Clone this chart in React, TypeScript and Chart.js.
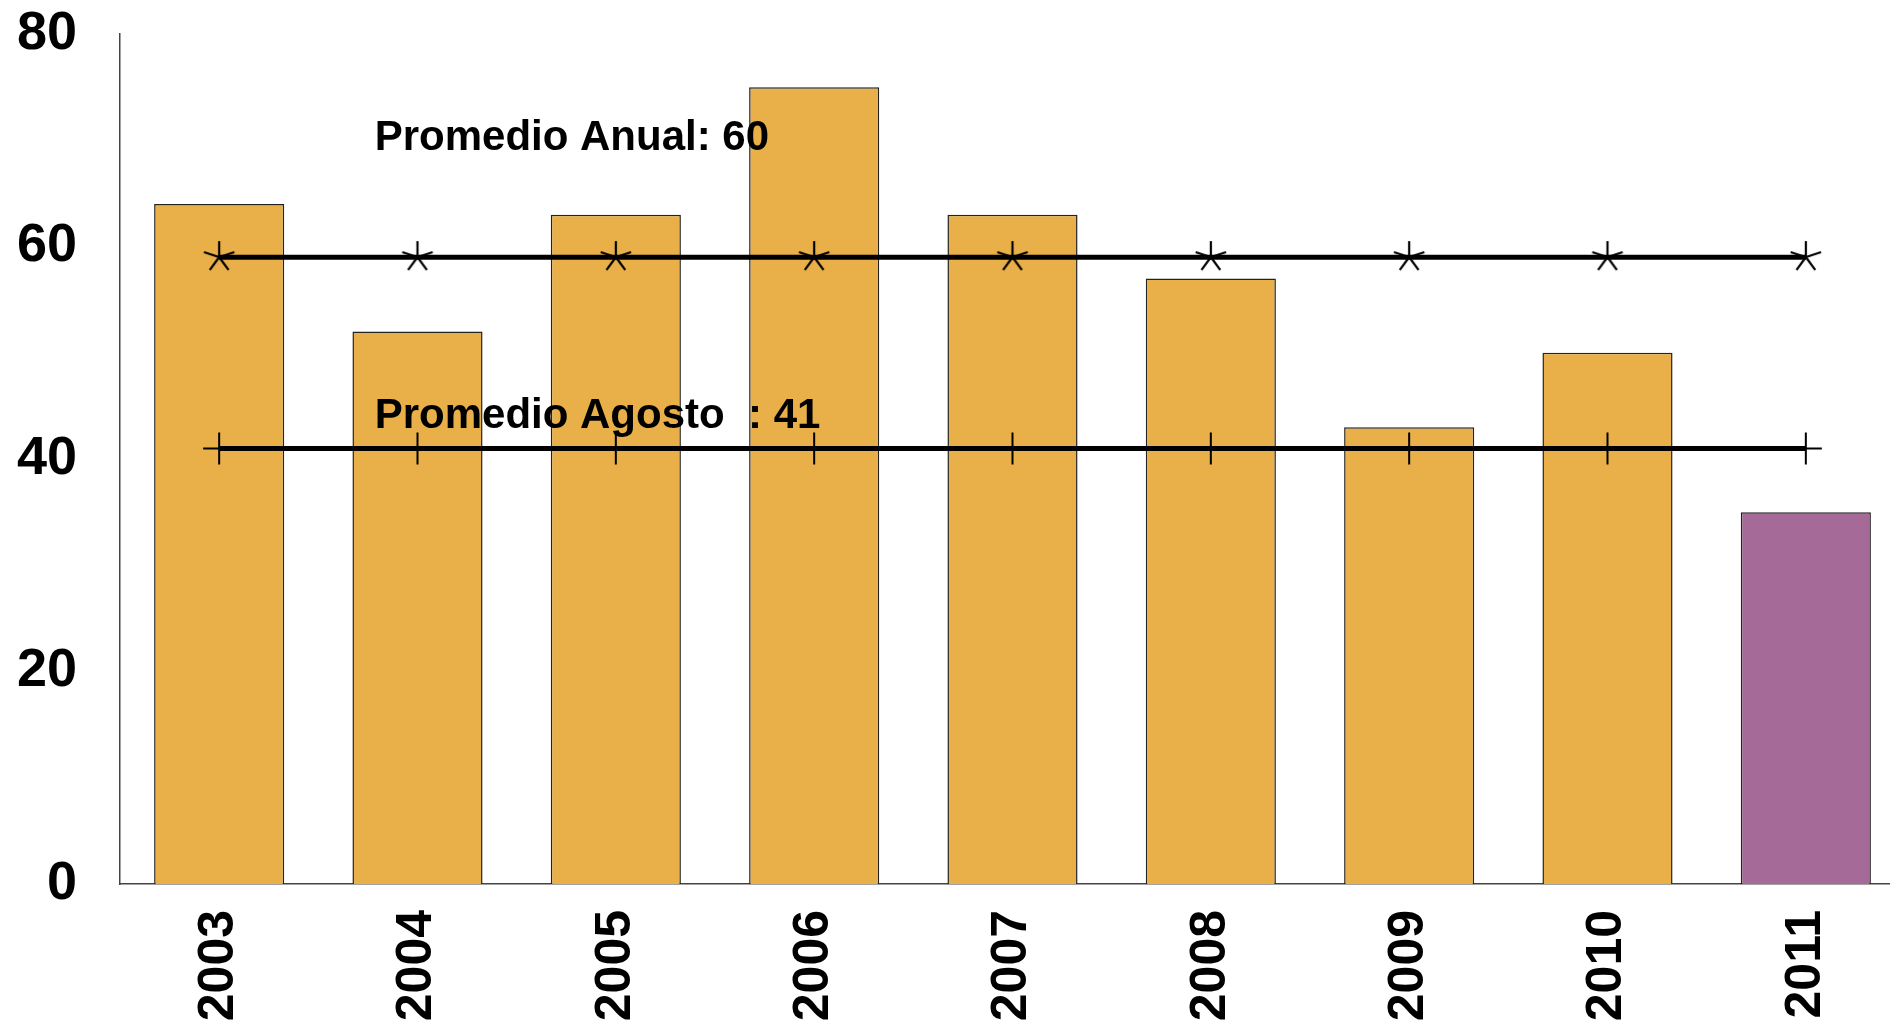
import React, { useEffect, useRef } from 'react';
import { Chart, registerables } from 'chart.js';

Chart.register(...registerables);

const years = ['2003', '2004', '2005', '2006', '2007', '2008', '2009', '2010', '2011'];
const rainValues = [64, 52, 63, 75, 63, 57, 43, 50, 35];
const barColors = ['#E9B04A', '#E9B04A', '#E9B04A', '#E9B04A', '#E9B04A', '#E9B04A', '#E9B04A', '#E9B04A', '#A56A98'];
const annualAvg = [59, 59, 59, 59, 59, 59, 59, 59, 59];
const augustAvg = [41, 41, 41, 41, 41, 41, 41, 41, 41];
const yTicks = [0, 20, 40, 60, 80];
const annotationTexts = ['Promedio Anual: 60', 'Promedio Agosto  : 41'];
const annotationX = [0.784, 0.784];
const annotationY = [70.2, 44];

const FONT = '"Liberation Sans", Arial, Helvetica, sans-serif';
const CANVAS_W = 1926;

function makeAsterisk(): HTMLCanvasElement {
  const c = document.createElement('canvas');
  c.width = 36;
  c.height = 36;
  const ctx = c.getContext('2d')!;
  ctx.strokeStyle = '#000';
  ctx.lineWidth = 2.2;
  const cx = 18, cy = 18, r = 16;
  const angles = [90, 18, 162, -54, -126];
  ctx.beginPath();
  for (const a of angles) {
    const rad = (a * Math.PI) / 180;
    ctx.moveTo(cx, cy);
    ctx.lineTo(cx + r * Math.cos(rad), cy - r * Math.sin(rad));
  }
  ctx.stroke();
  return c;
}

const annotationPlugin = {
  id: 'textAnnotations',
  afterDatasetsDraw(chart: any) {
    const { ctx, scales } = chart;
    ctx.save();
    ctx.font = `bold 42px ${FONT}`;
    ctx.fillStyle = '#000';
    ctx.textAlign = 'left';
    ctx.textBaseline = 'middle';
    annotationTexts.forEach((t, i) => {
      const x = scales.x.getPixelForValue(annotationX[i]);
      const y = scales.y.getPixelForValue(annotationY[i]);
      ctx.fillText(t, x, y);
    });
    ctx.restore();
  },
};

export default function App() {
  const ref = useRef<HTMLCanvasElement | null>(null);

  useEffect(() => {
    if (!ref.current) return;
    const star = makeAsterisk();
    const chart = new Chart(ref.current, {
      type: 'bar',
      data: {
        labels: years,
        datasets: [
          {
            type: 'line',
            data: annualAvg,
            borderColor: '#000',
            borderWidth: 5,
            pointStyle: star as any,
            pointRadius: 16,
            fill: false,
            order: 0,
          } as any,
          {
            type: 'line',
            data: augustAvg,
            borderColor: '#000',
            borderWidth: 5,
            pointStyle: 'cross',
            pointRadius: 16,
            pointBorderWidth: 2,
            pointBorderColor: '#000',
            fill: false,
            order: 0,
          } as any,
          {
            type: 'bar',
            data: rainValues,
            backgroundColor: barColors,
            borderColor: '#222',
            borderWidth: 1.5,
            barPercentage: 0.656,
            categoryPercentage: 1,
            order: 1,
          } as any,
        ],
      },
      options: {
        responsive: false,
        animation: false,
        events: [],
        layout: { padding: { top: 34, right: 5, left: 0, bottom: 0 } },
        plugins: { legend: { display: false }, tooltip: { enabled: false } },
        scales: {
          x: {
            offset: true,
            grid: { display: false, drawTicks: false },
            border: { display: true, color: '#444', width: 1.5 },
            ticks: {
              autoSkip: false,
              minRotation: 90,
              maxRotation: 90,
              padding: 26,
              color: '#000',
              font: { family: FONT, size: 50, weight: 'bold' },
            },
            afterFit: (s: any) => {
              s.height = 142;
              s.paddingLeft = 0;
              s.paddingRight = 0;
            },
          },
          y: {
            min: 0,
            max: 80,
            afterBuildTicks: (s: any) => {
              s.ticks = yTicks.map((v) => ({ value: v }));
            },
            grid: { display: false, drawTicks: false },
            border: { display: true, color: '#444', width: 1.5 },
            ticks: {
              padding: 43,
              color: '#000',
              font: { family: FONT, size: 54, weight: 'bold' },
            },
            afterFit: (s: any) => {
              s.width = 120;
              s.paddingTop = 0;
              s.paddingBottom = 0;
            },
          },
        },
      },
      plugins: [annotationPlugin],
    });
    return () => chart.destroy();
  }, []);

  return (
    <div
      style={{
        position: 'fixed',
        left: 0,
        top: 0,
        width: 1890,
        height: 1026,
        overflow: 'hidden',
        background: '#fff',
      }}
    >
      <div style={{ width: CANVAS_W, height: 1026 }}>
        <canvas
          ref={ref}
          width={CANVAS_W}
          height={1026}
          style={{ display: 'block', width: `${CANVAS_W}px`, height: '1026px' }}
        />
      </div>
    </div>
  );
}
